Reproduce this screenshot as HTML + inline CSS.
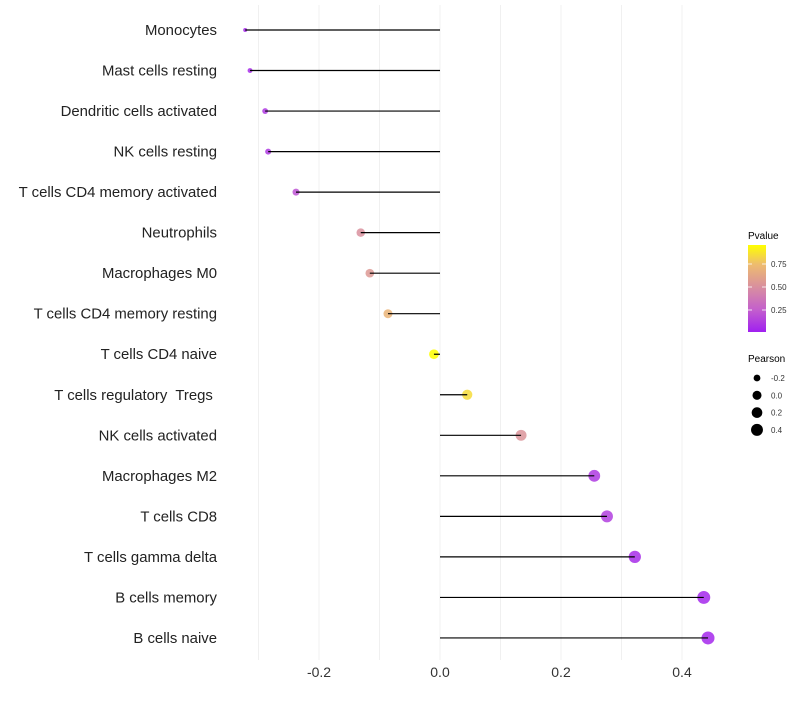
<!DOCTYPE html>
<html><head><meta charset="utf-8"><style>
body{margin:0;background:#fff;font-family:"Liberation Sans",sans-serif}
text{white-space:pre}
</style></head><body>
<svg id="chart" width="800" height="700" xmlns="http://www.w3.org/2000/svg">
<defs><linearGradient id="pg" x1="0" y1="1" x2="0" y2="0">
<stop offset="0" stop-color="#A020F0"/><stop offset="0.26" stop-color="#C460CC"/><stop offset="0.52" stop-color="#D9909E"/><stop offset="0.78" stop-color="#EEBD6E"/><stop offset="1" stop-color="#FFFF00"/></linearGradient></defs>
<g id="grid"></g>
<g id="marks"></g>
<g id="labels"></g>
<g>
<text x="748" y="239" font-size="10" fill="#000">Pvalue</text>
<rect x="748" y="245" width="18" height="87" fill="url(#pg)"/>
<g stroke="#fff" stroke-width="1" opacity="0.8"><line x1="748" y1="264" x2="752" y2="264"/><line x1="762" y1="264" x2="766" y2="264"/><line x1="748" y1="287" x2="752" y2="287"/><line x1="762" y1="287" x2="766" y2="287"/><line x1="748" y1="310" x2="752" y2="310"/><line x1="762" y1="310" x2="766" y2="310"/></g>
<g font-size="8" fill="#333"><text x="771" y="267">0.75</text><text x="771" y="290">0.50</text><text x="771" y="313">0.25</text></g>
</g>
<g id="sizeleg">
<text x="748" y="362" font-size="10" fill="#000">Pearson</text>
</g>
</svg>
<script>
const categories=["Monocytes","Mast cells resting","Dendritic cells activated","NK cells resting","T cells CD4 memory activated","Neutrophils","Macrophages M0","T cells CD4 memory resting","T cells CD4 naive","T cells regulatory  Tregs ","NK cells activated","Macrophages M2","T cells CD8","T cells gamma delta","B cells memory","B cells naive"];
const pearson=[-0.322,-0.314,-0.289,-0.284,-0.238,-0.131,-0.116,-0.086,-0.010,0.045,0.134,0.255,0.276,0.322,0.436,0.443];
const pvalues=[0.04,0.05,0.1,0.1,0.2,0.5,0.55,0.7,0.96,0.85,0.52,0.1,0.12,0.05,0.03,0.03];
const xTicks=[-0.2,0,0.2,0.4];
const xTickLabels=["-0.2","0.0","0.2","0.4"];
const gridVals=[-0.3,-0.2,-0.1,0,0.1,0.2,0.3,0.4];
const sizeLegVals=[-0.2,0,0.2,0.4];
const sizeLegLabels=["-0.2","0.0","0.2","0.4"];
const NS="http://www.w3.org/2000/svg";
const X=v=>440+v*605;
const Y=i=>30+i*40.53;
const R=v=>2+4.5*Math.sqrt(Math.max(0,(v+0.322)/0.765));
const stops=[[0,[160,32,240]],[0.25,[196,96,204]],[0.5,[217,144,158]],[0.75,[238,189,110]],[0.96,[255,255,0]]];
function col(p){p=Math.max(0,Math.min(0.96,p));for(let k=1;k<stops.length;k++){if(p<=stops[k][0]){const a=stops[k-1],b=stops[k],t=(p-a[0])/(b[0]-a[0]);return "rgb("+a[1].map((c,j)=>Math.round(c+(b[1][j]-c)*t)).join(",")+")";}}return "rgb(255,255,0)";}
function mk(t,at,par){const e=document.createElementNS(NS,t);for(const k in at)e.setAttribute(k,at[k]);document.getElementById(par).appendChild(e);return e;}
gridVals.forEach(v=>{const l=mk("line",{x1:X(v),x2:X(v),y1:5,y2:660,stroke:"#f0f0f0","stroke-width":1},"grid");

});
xTicks.forEach((v,i)=>{const t=mk("text",{x:X(v),y:677,"text-anchor":"middle","font-size":14,fill:"#333"},"labels");t.textContent=xTickLabels[i];

});
categories.forEach((c,i)=>{
const t=mk("text",{x:217,y:Y(i)+5,"text-anchor":"end","font-size":14.9,fill:"#222"},"labels");t.textContent=c;


const d=mk("circle",{cx:X(pearson[i]),cy:Y(i),r:R(pearson[i]),fill:col(pvalues[i]),opacity:0.85},"marks");


const l=mk("line",{x1:X(0),x2:X(pearson[i]),y1:Y(i),y2:Y(i),stroke:"#000","stroke-width":1.2},"marks");


});
sizeLegVals.forEach((v,i)=>{const y=378+i*17.3;
const c=mk("circle",{cx:757,cy:y,r:R(v)-0.4,fill:"#000"},"sizeleg");


const t=mk("text",{x:771,y:y+3,"font-size":8,fill:"#333"},"sizeleg");t.textContent=sizeLegLabels[i];

});
</script>
</body></html>
